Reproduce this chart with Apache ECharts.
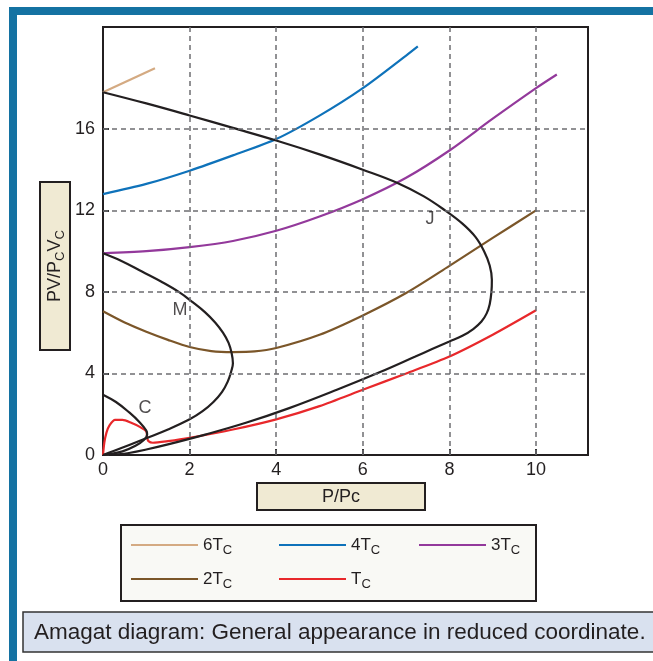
<!DOCTYPE html>
<html>
<head>
<meta charset="utf-8">
<script src="https://cdn.jsdelivr.net/npm/echarts@6/dist/echarts.min.js"></script>
<style>
  html, body { margin: 0; padding: 0; background: #fff; }
  #chart { width: 653px; height: 661px; }
</style>
</head>
<body>
<div id="chart"></div>
<script>
// isotherms, [P/Pc, PV/PcVc]
var t6 = [[0, 17.8], [1.2, 18.97]];
var t4 = [[0, 12.8], [1, 13.3], [2, 13.95], [3, 14.7], [4, 15.5], [5, 16.65], [6, 18.0], [7, 19.6], [7.27, 20.05]];
var t3 = [[0, 9.9], [1, 10.0], [2, 10.2], [3, 10.5], [4, 11.0], [5, 11.7], [6, 12.55], [7, 13.6], [8, 14.94], [9, 16.5], [10, 18.0], [10.48, 18.67]];
var t2 = [[0, 7.05], [0.5, 6.5], [1, 6.05], [1.5, 5.65], [2, 5.3], [2.5, 5.1], [3, 5.05], [3.5, 5.08], [4, 5.25], [5, 5.9], [6, 6.85], [7, 7.95], [8, 9.28], [9, 10.65], [10, 12.0]];
var t1 = [[0, 0], [0.03, 0.6], [0.08, 1.1], [0.15, 1.45], [0.28, 1.72], [0.45, 1.72], [0.65, 1.58], [0.85, 1.38], [1.0, 1.15], [1.02, 0.85], [1.05, 0.68], [1.15, 0.6], [1.5, 0.68], [2, 0.84], [3, 1.25], [4, 1.75], [5, 2.4], [6, 3.2], [7, 4.0], [8, 4.83], [9, 5.9], [10, 7.1]];

// black loci
var curveJ = [[0, 17.8], [1, 17.25], [2, 16.66], [3, 16.05], [4, 15.43], [5, 14.75], [6, 14.0], [6.8, 13.35], [7.4, 12.7], [7.9, 12.0], [8.3, 11.35], [8.6, 10.7], [8.8, 10.0], [8.93, 9.3], [8.98, 8.6], [8.97, 8.0], [8.93, 7.4], [8.86, 6.95], [8.74, 6.55], [8.55, 6.18], [8.3, 5.85], [8.0, 5.57], [7.6, 5.2], [7.2, 4.82], [6.4, 4.07], [5.4, 3.2], [4.3, 2.3], [3.3, 1.58], [2.36, 1.0], [1.5, 0.52], [1.0, 0.27], [0.6, 0.1], [0.3, 0.02], [0.15, 0]];
var curveM = [[0, 9.9], [0.45, 9.5], [0.9, 9.0], [1.35, 8.5], [1.75, 8.0], [2.07, 7.5], [2.36, 7.0], [2.59, 6.5], [2.77, 6.0], [2.9, 5.5], [2.97, 5.0], [3.0, 4.5], [2.96, 4.1], [2.88, 3.6], [2.75, 3.1], [2.55, 2.6], [2.3, 2.15], [2.0, 1.75], [1.5, 1.25], [1.0, 0.82], [0.5, 0.4], [0, 0]];
var curveC = [[0, 2.96], [0.3, 2.6], [0.6, 2.1], [0.85, 1.6], [1.0, 1.2], [1.02, 1.0], [0.95, 0.75], [0.75, 0.45], [0.45, 0.18], [0, 0]];
var curveLabels = [[0.97, 2.3, 'C'], [1.78, 7.1, 'M'], [7.55, 11.6, 'J']];

var xRange = [0, 11.2];
var yRange = [0, 21];
var xLabels = [0, 2, 4, 6, 8, 10];
var yLabels = [0, 4, 8, 12, 16];
var xGrid = [2, 4, 6, 8, 10];
var yGrid = [4, 8, 12, 16];

var black = '#231f20';
var font = 'Liberation Sans, Arial, sans-serif';

function iso(name, data, color, smooth) {
    return {
        name: name, type: 'line', data: data, symbol: 'none',
        smooth: smooth, lineStyle: { color: color, width: 2.2 },
        itemStyle: { color: color }, z: 3
    };
}
function locus(data) {
    return {
        type: 'line', data: data, symbol: 'none', smooth: 0.4,
        lineStyle: { color: black, width: 2.2 }, z: 4
    };
}
function legendAt(name, left, top) {
    return {
        data: [name], left: left, top: top, selectedMode: false,
        itemWidth: 67, itemHeight: 14,
        itemStyle: { opacity: 0 },
        formatter: function (n) { return n.replace(/c$/, '') + '{s|C}'; },
        textStyle: {
            fontFamily: font, fontSize: 17, color: black, lineHeight: 24,
            rich: { s: { fontFamily: font, fontSize: 13, color: black, verticalAlign: 'bottom', lineHeight: 24 } }
        }
    };
}
function axisOf(range, labels) {
    return {
        type: 'value', min: range[0], max: range[1],
        axisLine: { show: true, lineStyle: { color: black, width: 2 } },
        axisTick: { show: true, inside: true, length: 6, customValues: labels, lineStyle: { color: '#333', width: 2 } },
        axisLabel: { fontFamily: font, fontSize: 18, color: black, customValues: labels },
        splitLine: { show: false }
    };
}

var gridLines = [];
xGrid.forEach(function (v) { gridLines.push({ xAxis: v }); });
yGrid.forEach(function (v) { gridLines.push({ yAxis: v }); });

var xAxis = axisOf(xRange, xLabels);
xAxis.axisLabel.margin = 6;
var yAxis = axisOf(yRange, yLabels);
yAxis.axisLabel.margin = 8;

var myChart = echarts.init(document.getElementById('chart'));
var option = {
    backgroundColor: '#fff',
    animation: false,
    grid: { left: 103, top: 27, right: 65, bottom: 206, show: true, borderColor: black, borderWidth: 2, backgroundColor: 'transparent' },
    xAxis: xAxis,
    yAxis: yAxis,
    legend: [
        legendAt('6Tc', 125, 528),
        legendAt('4Tc', 273, 528),
        legendAt('3Tc', 413, 528),
        legendAt('2Tc', 125, 562),
        legendAt('Tc', 273, 562)
    ],
    series: [
        {
            type: 'line', data: [], z: 1, silent: true,
            markLine: {
                silent: true, symbol: 'none', label: { show: false },
                lineStyle: { color: '#6d6e71', width: 1.5, type: [5, 4] },
                data: gridLines
            }
        },
        iso('6Tc', t6, '#d4aa82', false),
        iso('4Tc', t4, '#0e72ba', 0.3),
        iso('3Tc', t3, '#93399b', 0.3),
        iso('2Tc', t2, '#7b5629', 0.3),
        iso('Tc', t1, '#e8282b', 0.25),
        locus(curveJ),
        locus(curveM),
        locus(curveC),
        {
            type: 'scatter', data: curveLabels, symbolSize: 0, z: 5,
            label: {
                show: true, position: 'inside', fontFamily: font, fontSize: 18, color: black,
                formatter: function (p) { return p.value[2]; }
            }
        }
    ],
    graphic: [
        { type: 'rect', shape: { x: 9, y: 7, width: 650, height: 8 }, style: { fill: '#1472a2' } },
        { type: 'rect', shape: { x: 9, y: 7, width: 8, height: 660 }, style: { fill: '#1472a2' } },
        // y axis name box
        { type: 'rect', shape: { x: 40, y: 182, width: 30, height: 168 }, style: { fill: '#f0ead3', stroke: black, lineWidth: 2 } },
        {
            type: 'text', x: 55, y: 266, rotation: Math.PI / 2,
            style: {
                text: 'PV/P{s|C}V{s|C}', fontFamily: font, fontSize: 18, fill: black,
                align: 'center', verticalAlign: 'middle', lineHeight: 24,
                rich: { s: { fontFamily: font, fontSize: 13, fill: black, verticalAlign: 'bottom', lineHeight: 24 } }
            }
        },
        // x axis name box
        { type: 'rect', shape: { x: 257, y: 483, width: 168, height: 27 }, style: { fill: '#f0ead3', stroke: black, lineWidth: 2 } },
        { type: 'text', x: 341, y: 497, style: { text: 'P/Pc', fontFamily: font, fontSize: 18, fill: black, align: 'center', verticalAlign: 'middle' } },
        // legend box
        { type: 'rect', z: -1, shape: { x: 121, y: 525, width: 415, height: 76 }, style: { fill: '#f9f9f5', stroke: black, lineWidth: 2 } },
        // caption
        { type: 'rect', shape: { x: 23, y: 612, width: 640, height: 40 }, style: { fill: '#d9e1ef', stroke: '#333', lineWidth: 1.5 } },
        { type: 'text', x: 34, y: 633, style: { text: 'Amagat diagram: General appearance in reduced coordinate.', fontFamily: font, fontSize: 22.5, fill: black, verticalAlign: 'middle' } }
    ]
};
myChart.setOption(option);
</script>
</body>
</html>
